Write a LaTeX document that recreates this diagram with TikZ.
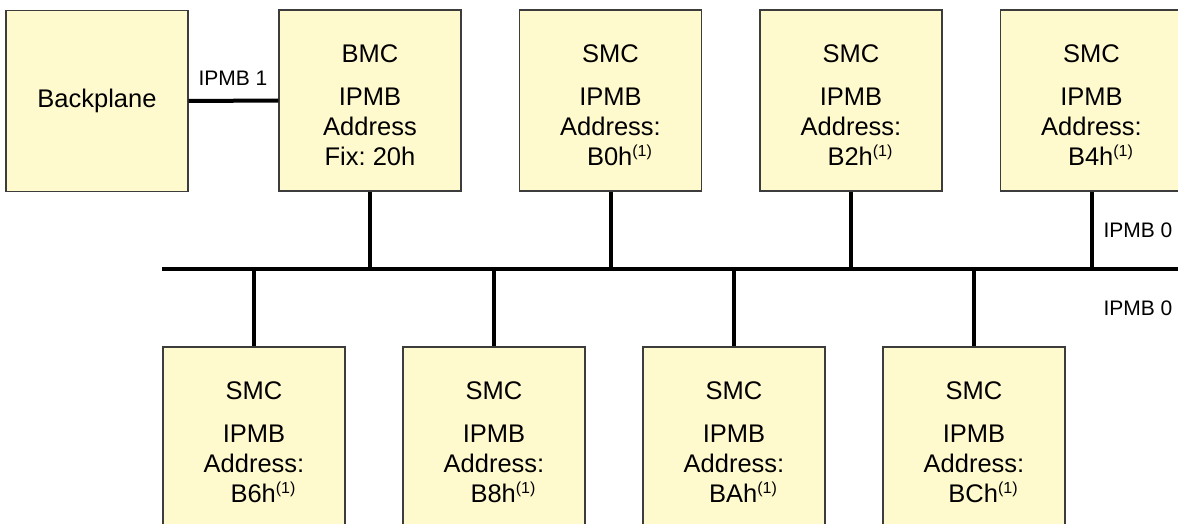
\documentclass[tikz,border=0pt]{standalone}
\usepackage{fontspec}
\setmainfont{Liberation Sans}
\usetikzlibrary{positioning}

\definecolor{boxfill}{RGB}{255,250,205}
\definecolor{boxline}{RGB}{60,60,60}
\newcommand{\fnone}{\raisebox{9pt}{\fontsize{16}{16}\selectfont(1)}}
\frenchspacing

\tikzset{
    card/.style = {draw=boxline, line width=1.2pt, fill=boxfill, minimum width=182pt, minimum height=181pt, inner sep=0pt, font=\fontsize{25.5}{30}\selectfont},
    cardtext/.style = {align=center, anchor=north, inner sep=0pt, font=\fontsize{25.5}{30}\selectfont},
    wire/.style = {line width=4pt},
    wirelabel/.style = {inner sep=0pt, font=\fontsize{21}{24}\selectfont},
}

\begin{document}
\begin{tikzpicture} [x=1pt, y=-1pt, node distance = 240.5pt, on grid]
    \useasboundingbox (0,0) rectangle (1178,524);
    \clip (0,0) rectangle (1178,524);

    % upper row
    \node (backplane) [card] at (97,101) {Backplane};
    \node (bmc) [card] at (370,100.5) {};
    \node (smcB0) [card, right = of bmc] {};
    \node (smcB2) [card, right = of smcB0] {};
    \node (smcB4) [card, right = of smcB2] {};

    % lower row
    \node (smcB6) [card] at (254,437.5) {};
    \node (smcB8) [card, right = 240pt of smcB6] {};
    \node (smcBA) [card, right = 240pt of smcB8] {};
    \node (smcBC) [card, right = 240pt of smcBA] {};

    % box texts
    \node (bmcT) [cardtext] at ([yshift=-35pt]bmc.north) {BMC\\[13pt]IPMB\\Address\\Fix: 20h};
    \node (smcB0T) [cardtext] at ([yshift=-35pt]smcB0.north) {SMC\\[13pt]IPMB\\Address:\\\hspace{18pt}B0h\fnone};
    \node (smcB2T) [cardtext] at ([yshift=-35pt]smcB2.north) {SMC\\[13pt]IPMB\\Address:\\\hspace{18pt}B2h\fnone};
    \node (smcB4T) [cardtext] at ([yshift=-35pt]smcB4.north) {SMC\\[13pt]IPMB\\Address:\\\hspace{18pt}B4h\fnone};
    \node (smcB6T) [cardtext] at ([yshift=-35pt]smcB6.north) {SMC\\[13pt]IPMB\\Address:\\\hspace{18pt}B6h\fnone};
    \node (smcB8T) [cardtext] at ([yshift=-35pt]smcB8.north) {SMC\\[13pt]IPMB\\Address:\\\hspace{18pt}B8h\fnone};
    \node (smcBAT) [cardtext] at ([yshift=-35pt]smcBA.north) {SMC\\[13pt]IPMB\\Address:\\\hspace{18pt}BAh\fnone};
    \node (smcBCT) [cardtext] at ([yshift=-35pt]smcBC.north) {SMC\\[13pt]IPMB\\Address:\\\hspace{18pt}BCh\fnone};

    % IPMB 1 link
    \draw [wire] (backplane.east) -- (bmc.west);
    \node (ipmbOne) [wirelabel] at (233,78) {IPMB 1};

    % IPMB 0 bus
    \coordinate (busL) at (162,269);
    \coordinate (busR) at (1190,269);
    \draw [wire] (busL) -- (busR);
    \draw [wire] (bmc.south) -- (bmc.south |- busL);
    \draw [wire] (smcB0.south) -- (smcB0.south |- busL);
    \draw [wire] (smcB2.south) -- (smcB2.south |- busL);
    \draw [wire] (smcB4.south) -- (smcB4.south |- busL);
    \draw [wire] (smcB6.north) -- (smcB6.north |- busL);
    \draw [wire] (smcB8.north) -- (smcB8.north |- busL);
    \draw [wire] (smcBA.north) -- (smcBA.north |- busL);
    \draw [wire] (smcBC.north) -- (smcBC.north |- busL);
    \node (ipmbZeroA) [wirelabel] at (1138,230) {IPMB 0};
    \node (ipmbZeroB) [wirelabel] at (1138,308) {IPMB 0};

\end{tikzpicture}
\end{document}
